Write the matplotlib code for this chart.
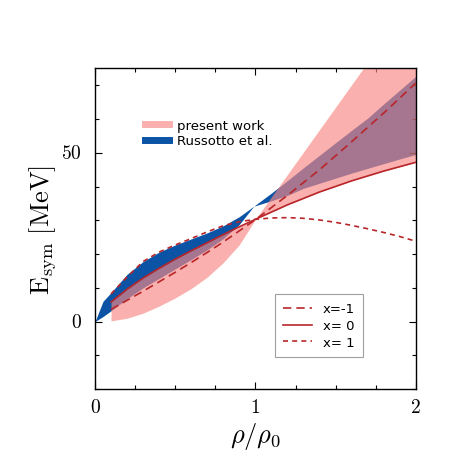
import numpy as np
import matplotlib
matplotlib.use("Agg")
import matplotlib.pyplot as plt
from matplotlib.lines import Line2D
from matplotlib.ticker import MultipleLocator

plt.rcParams['mathtext.fontset'] = 'cm'

# ---- data ----
# model curves E_sym(rho) for x = -1, 0, 1
rho_m = [0.1, 0.2, 0.3, 0.4, 0.5, 0.6, 0.7, 0.8, 0.9, 1.0, 1.2, 1.4, 1.6, 1.8, 2.0]
e_xm1 = [3.6, 6.3, 9.0, 11.8, 14.6, 17.5, 20.5, 23.6, 26.9, 30.2, 37.4, 45.0, 53.3, 61.8, 70.7]
e_x0 = [5.8, 9.6, 12.9, 15.8, 18.5, 21.0, 23.4, 25.8, 28.1, 30.3, 34.6, 38.4, 41.7, 44.6, 47.2]
rho_p1 = [0.1, 0.2, 0.3, 0.4, 0.5, 0.6, 0.7, 0.8, 0.9, 1.0, 1.1, 1.2, 1.3, 1.4,
          1.5, 1.6, 1.7, 1.8, 1.9, 2.0]
e_xp1 = [8.2, 13.2, 17.8, 20.6, 22.7, 24.6, 26.6, 28.4, 29.6, 30.3, 30.7, 30.8, 30.6, 30.1,
         29.4, 28.5, 27.5, 26.4, 25.2, 23.8]

# "present work" band: between x=0 curve and a second bound
band_p_rho = [0.1, 0.2, 0.3, 0.4, 0.5, 0.6, 0.7, 0.8, 0.9, 1.0, 1.2, 1.4, 1.6, 1.8, 2.0]
band_p_other = [0.2, 1.0, 2.5, 4.6, 7.0, 9.8, 13.2, 17.5, 22.8, 30.3, 43.6, 56.9, 70.2, 83.5, 96.8]

# Russotto et al. band
rus_rho = [0.0, 0.05, 0.1, 0.2, 0.3, 0.4, 0.5, 0.6, 0.7, 0.8, 0.9, 0.99,
           1.1, 1.2, 1.3, 1.4, 1.5, 1.6, 1.7, 1.8, 1.9, 2.0]
rus_hi = [0.0, 6.0, 8.6, 14.0, 17.8, 20.6, 22.7, 24.5, 26.3, 28.4, 31.1, 34.2,
          38.1, 41.8, 45.6, 49.3, 53.0, 56.7, 60.3, 64.5, 68.6, 72.7]
rus_lo = [0.0, 1.5, 3.2, 6.8, 10.0, 12.8, 15.6, 18.4, 21.3, 24.6, 28.8, 34.2,
          35.8, 37.4, 39.5, 41.0, 42.5, 44.0, 45.4, 46.8, 48.2, 49.5]

red = '#b8262a'
pink = '#f88884'
blue = '#0b53a5'

fig = plt.figure(figsize=(4.6, 4.6), dpi=100)
ax = fig.add_axes([0.2065, 0.152, 0.6975, 0.697])

ax.fill_between(rus_rho, rus_lo, rus_hi, color=blue, lw=0, zorder=1)
ax.fill_between(band_p_rho, np.interp(band_p_rho, rho_m, e_x0), band_p_other,
                color=pink, alpha=0.66, lw=0, zorder=2)

l1, = ax.plot(rho_m, e_xm1, color=red, lw=1.2, ls=(0, (5, 3)), zorder=3)
l2, = ax.plot(rho_m, e_x0, color=red, lw=1.2, ls='-', zorder=3)
l3, = ax.plot(rho_p1, e_xp1, color=red, lw=1.2, ls=(0, (3, 2.5)), zorder=3)

ax.set_xlim(0, 2)
ax.set_ylim(-20, 75)
ax.xaxis.set_major_locator(MultipleLocator(1))
ax.xaxis.set_minor_locator(MultipleLocator(0.25))
ax.yaxis.set_major_locator(MultipleLocator(50))
ax.yaxis.set_minor_locator(MultipleLocator(10))
ax.tick_params(which='both', direction='in', top=True, right=True, width=0.8)
ax.tick_params(which='major', length=5, labelsize=13, pad=6)
ax.tick_params(which='minor', length=3)
for sp in ax.spines.values():
    sp.set_linewidth(1.0)

ax.set_xticklabels([])
ax.set_yticklabels([])
for v in [0, 1, 2]:
    ax.text(v, -0.025, r'$%d$' % v, transform=ax.get_xaxis_transform(),
            ha='center', va='top', fontsize=14)
for v in [0, 50]:
    ax.text(-0.04, v, r'$%d$' % v, transform=ax.get_yaxis_transform(),
            ha='right', va='center', fontsize=14)

ax.set_xlabel(r'$\rho/\rho_0$', fontsize=19, labelpad=16)
ax.set_ylabel(r'$\mathrm{E_{sym}\ [MeV]}$', fontsize=19, labelpad=20)

h1 = [Line2D([], [], color=pink, alpha=0.66, lw=5),
      Line2D([], [], color=blue, lw=5)]
leg1 = ax.legend(h1, ['present work', 'Russotto et al.'], loc='upper left',
                 bbox_to_anchor=(0.14, 0.86), frameon=False, fontsize=9.5,
                 handlelength=1.8, handletextpad=0.6, labelspacing=0.2,
                 borderaxespad=0)
ax.add_artist(leg1)

leg2 = ax.legend([l1, l2, l3], ['x=-1', 'x= 0', 'x= 1'], loc='lower right',
                 bbox_to_anchor=(0.835, 0.10), frameon=True, fancybox=False,
                 fontsize=9.5, handlelength=2.2, handletextpad=0.8,
                 labelspacing=0.3, borderpad=0.6, borderaxespad=0)
leg2.get_frame().set_edgecolor('#888888')
leg2.get_frame().set_linewidth(0.8)

fig.savefig('out.png', dpi=100)
